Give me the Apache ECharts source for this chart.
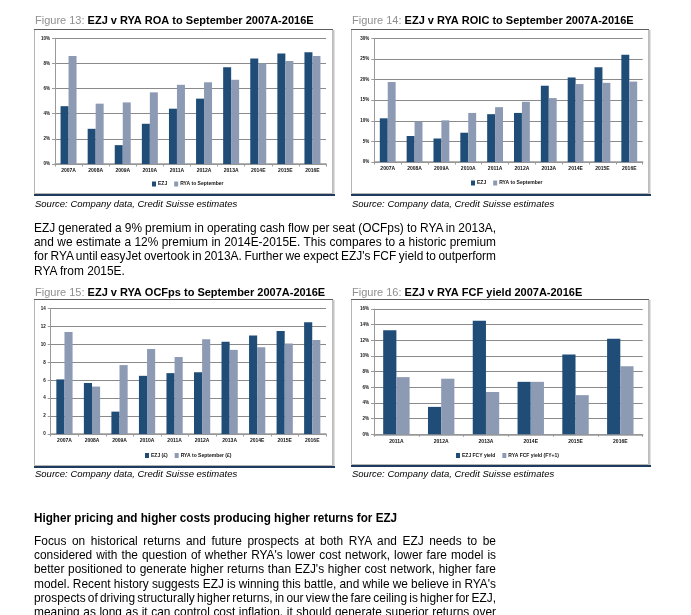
<!DOCTYPE html>
<html>
<head>
<meta charset="utf-8">
<script src="https://cdn.jsdelivr.net/npm/echarts@6/dist/echarts.min.js"></script>
<style>
  html, body { margin: 0; padding: 0; background: #fff; }
  #page { position: relative; width: 691px; height: 615px; overflow: hidden; }
  #chart { position: absolute; left: 0; top: 0; width: 691px; height: 615px; }
  .txt { position: absolute; left: 34px; width: 462px; font-family: "Liberation Sans", Arial, sans-serif; font-size: 12.8px; color: #000; }
  .ln { white-space: nowrap; height: 14.2px; line-height: 14.2px; }
  .ln span, .hd span { display: inline-block; white-space: nowrap; transform-origin: 0 50%; }
  .hd { position: absolute; left: 34px; font-family: "Liberation Sans", Arial, sans-serif; font-size: 12.6px; font-weight: bold; color: #000; line-height: 14px; white-space: nowrap; }
</style>
</head>
<body>
<div id="page">
  <div id="chart"></div>
  <div class="txt" style="top:221px;">
    <div class="ln j"><span>EZJ generated a 9% premium in operating cash flow per seat (OCFps) to RYA in 2013A,</span></div>
    <div class="ln j"><span>and we estimate a 12% premium in 2014E-2015E. This compares to a historic premium</span></div>
    <div class="ln j"><span>for RYA until easyJet overtook in 2013A. Further we expect EZJ's FCF yield to outperform</span></div>
    <div class="ln"><span>RYA from 2015E.</span></div>
  </div>
  <div class="hd" style="top:511px;"><span>Higher pricing and higher costs producing higher returns for EZJ</span></div>
  <div class="txt" style="top:534px;">
    <div class="ln j"><span>Focus on historical returns and future prospects at both RYA and EZJ needs to be</span></div>
    <div class="ln j"><span>considered with the question of whether RYA's lower cost network, lower fare model is</span></div>
    <div class="ln j"><span>better positioned to generate higher returns than EZJ's higher cost network, higher fare</span></div>
    <div class="ln j"><span>model. Recent history suggests EZJ is winning this battle, and while we believe in RYA's</span></div>
    <div class="ln j"><span>prospects of driving structurally higher returns, in our view the fare ceiling is higher for EZJ,</span></div>
    <div class="ln j"><span>meaning as long as it can control cost inflation, it should generate superior returns over</span></div>
  </div>
</div>
<script>
// ---- data ----
const years10 = ['2007A', '2008A', '2009A', '2010A', '2011A', '2012A', '2013A', '2014E', '2015E', '2016E'];
const years6 = ['2011A', '2012A', '2013A', '2014E', '2015E', '2016E'];

const roaEZJ = [4.6, 2.8, 1.5, 3.2, 4.4, 5.2, 7.7, 8.4, 8.8, 8.9];
const roaRYA = [8.6, 4.8, 4.9, 5.7, 6.3, 6.5, 6.7, 8.0, 8.2, 8.6];

const roicEZJ = [10.6, 6.3, 5.7, 7.1, 11.6, 11.9, 18.5, 20.5, 23.0, 26.0];
const roicRYA = [19.4, 9.8, 10.1, 11.9, 13.3, 14.6, 15.5, 18.9, 19.2, 19.5];

const ocfEZJ = [6.1, 5.7, 2.5, 6.5, 6.8, 6.9, 10.3, 11.0, 11.5, 12.5];
const ocfRYA = [11.4, 5.3, 7.7, 9.5, 8.6, 10.6, 9.4, 9.7, 10.1, 10.5];

const fcfEZJ = [13.3, 3.5, 14.5, 6.7, 10.2, 12.2];
const fcfRYA = [7.3, 7.1, 5.4, 6.7, 5.0, 8.7];

const titles = [
  ['Figure 13: ', 'EZJ v RYA ROA to September 2007A-2016E'],
  ['Figure 14: ', 'EZJ v RYA ROIC to September 2007A-2016E'],
  ['Figure 15: ', 'EZJ v RYA OCFps to September 2007A-2016E'],
  ['Figure 16: ', 'EZJ v RYA FCF yield 2007A-2016E']
];
const sourceText = 'Source: Company data, Credit Suisse estimates';
const seriesNames = [
  ['EZJ', 'RYA to September'],
  ['EZJ', 'RYA to September'],
  ['EZJ (£)', 'RYA to September (£)'],
  ['EZJ FCY yield', 'RYA FCF yield (FY+1)']
];

// ---- justify text lines to exact column width (narrow body face) ----
(function justify() {
  const W = 462, S = 0.93;
  document.querySelectorAll('.hd span').forEach(function (sp) {
    sp.style.transform = 'scaleX(' + S + ')';
  });
  document.querySelectorAll('.ln').forEach(function (ln) {
    const sp = ln.querySelector('span');
    const text = sp.textContent;
    let w = sp.getBoundingClientRect().width;
    let s = S;
    if (ln.classList.contains('j')) {
      const nsp = (text.match(/ /g) || []).length;
      let ws = (W / s - w) / nsp;
      if (ws < -1.5) { ws = -1.5; s = W / (w + ws * nsp); }
      sp.style.wordSpacing = ws + 'px';
    }
    sp.style.transform = 'scaleX(' + s + ')';
  });
})();

// ---- styles / layout ----
const FONT = '"Liberation Sans", Arial, sans-serif';
const C_EZJ = '#1f4d78';
const C_RYA = '#8c9ab3';

const grids = [
  { left: 55, top: 38.3, width: 271, height: 125.7 },
  { left: 374.3, top: 38.3, width: 268.4, height: 123.7 },
  { left: 50.7, top: 308.7, width: 275.3, height: 125.3 },
  { left: 374, top: 309, width: 268.7, height: 125.3 }
];
const frames = [
  { x: 34, y: 29, w: 298, h: 164, title: 22, src: 205.5 },
  { x: 351, y: 29, w: 297, h: 164, title: 22, src: 205.5 },
  { x: 34, y: 299, w: 298, h: 166, title: 294, src: 475.5 },
  { x: 351, y: 299, w: 297, h: 165, title: 294, src: 475.5 }
];
const legendPos = [
  { left: 152, top: 181.5 },
  { left: 471, top: 180.5 },
  { left: 145, top: 453 },
  { left: 456, top: 453 }
];
const yCfg = [
  { max: 10, interval: 2, pct: true },
  { max: 30, interval: 5, pct: true },
  { max: 14, interval: 2, pct: false },
  { max: 16, interval: 2, pct: true }
];
const xCats = [years10, years10, years10, years6];
const dataSets = [[roaEZJ, roaRYA], [roicEZJ, roicRYA], [ocfEZJ, ocfRYA], [fcfEZJ, fcfRYA]];

const option = {
  animation: false,
  title: [],
  legend: [],
  grid: [],
  xAxis: [],
  yAxis: [],
  series: [],
  graphic: []
};

for (let i = 0; i < 4; i++) {
  const f = frames[i];
  option.title.push({
    text: '{a|' + titles[i][0] + '}{b|' + titles[i][1] + '}',
    left: f.x + 1, top: f.title - 7,
    padding: 0,
    textStyle: {
      rich: {
        a: { fontFamily: FONT, fontSize: 11, color: '#8f8f8f', fontWeight: 'normal' },
        b: { fontFamily: FONT, fontSize: 11, color: '#000', fontWeight: 'bold' }
      }
    }
  });
  option.title.push({
    text: sourceText,
    left: f.x + 1, top: f.src - 6,
    padding: 0,
    textStyle: { fontFamily: FONT, fontSize: 9.5, fontStyle: 'italic', fontWeight: 'normal', color: '#000' }
  });
  option.graphic.push(
    { type: 'rect', silent: true, z: -1, shape: { x: f.x + 0.5, y: f.y + 0.5, width: f.w, height: f.h }, style: { fill: '#fff', stroke: '#b5b5b5', lineWidth: 1 } },
    { type: 'line', silent: true, shape: { x1: f.x + f.w + 1.5, y1: f.y + 1, x2: f.x + f.w + 1.5, y2: f.y + f.h + 1 }, style: { stroke: '#c4c4c4', lineWidth: 2 } },
    { type: 'line', silent: true, shape: { x1: f.x, y1: f.y + 0.5, x2: f.x + f.w + 1, y2: f.y + 0.5 }, style: { stroke: '#5e5e5e', lineWidth: 1 } },
    { type: 'line', silent: true, shape: { x1: f.x, y1: f.y + f.h + 2, x2: f.x + f.w + 3, y2: f.y + f.h + 2 }, style: { stroke: '#1e3a5f', lineWidth: 2 } }
  );
  option.grid.push(grids[i]);
  option.xAxis.push({
    type: 'category', gridIndex: i, data: xCats[i],
    axisLine: { lineStyle: { color: '#9a9a9a', width: 1.5 } },
    axisTick: { show: true, length: 2.5, lineStyle: { color: '#9a9a9a' } },
    axisLabel: { fontFamily: FONT, fontSize: 5, fontWeight: 'bold', color: '#111', margin: 4.5, interval: 0 }
  });
  const yc = yCfg[i];
  option.yAxis.push({
    type: 'value', gridIndex: i, min: 0, max: yc.max, interval: yc.interval,
    axisLine: { show: true, lineStyle: { color: '#9a9a9a', width: 1 } },
    axisTick: { show: true, length: 3, lineStyle: { color: '#9a9a9a' } },
    splitLine: { show: true, lineStyle: { color: '#8a8a8a', width: 1 } },
    axisLabel: { fontFamily: FONT, fontSize: 4.5, fontWeight: 'bold', color: '#111', margin: 5,
      formatter: yc.pct ? '{value}%' : '{value}' }
  });
  const cols = [C_EZJ, C_RYA];
  for (let s = 0; s < 2; s++) {
    option.series.push({
      type: 'bar', name: seriesNames[i][s], xAxisIndex: i, yAxisIndex: i,
      data: dataSets[i][s],
      itemStyle: { color: cols[s] },
      barGap: '0%', barCategoryGap: '41%'
    });
  }
  option.legend.push({
    data: seriesNames[i], left: legendPos[i].left, top: legendPos[i].top,
    orient: 'horizontal', padding: 0, itemGap: 7, itemWidth: 4, itemHeight: 5,
    icon: 'rect', selectedMode: false,
    textStyle: { fontFamily: FONT, fontSize: 5, fontWeight: 'bold', color: '#111', padding: [0, 0, 0, -3] }
  });
}

const chart = echarts.init(document.getElementById('chart'), null, { renderer: 'canvas' });
chart.setOption(option);
</script>
</body>
</html>
